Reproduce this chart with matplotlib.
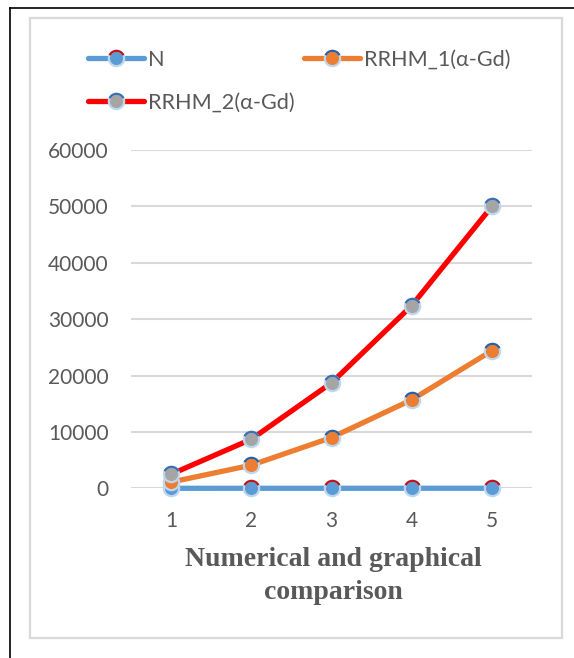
import matplotlib
matplotlib.use("Agg")
import matplotlib.pyplot as plt
from matplotlib.path import Path
from matplotlib.lines import Line2D
from matplotlib.patches import Rectangle
from matplotlib.legend_handler import HandlerTuple

# ---- data ----
categories = [1, 2, 3, 4, 5]
n_values = [1, 2, 3, 4, 5]
rrhm1_values = [1100, 4100, 9000, 15700, 24400]
rrhm2_values = [2500, 8700, 18700, 32400, 50000]
y_ticks = [0, 10000, 20000, 30000, 40000, 50000, 60000]
labels = ["N", "RRHM_1(α-Gd)", "RRHM_2(α-Gd)"]

W, H = 574, 658
fig = plt.figure(figsize=(W / 100, H / 100), dpi=100)
fig.patch.set_facecolor("white")

def fx(px):
    return px / W

def fy(py):
    return 1 - py / H

ax = fig.add_axes([fx(131), fy(488.3), fx(532) - fx(131), fy(150) - fy(488.3)])

TXT = "#595959"
FONT = ["Lato", "DejaVu Sans"]

series = [
    (n_values, "#5b9bd5", "#5b9bd5", "#c0141c"),
    (rrhm1_values, "#ed7d31", "#ed7d31", "#2f5f9e"),
    (rrhm2_values, "#ff0000", "#a5a5a5", "#3c6fb0"),
]

arc = Path.arc(25, 155)
handles = []
for (vals, lc, fc, ec), lab in zip(series, labels):
    base, = ax.plot(categories, vals, color=lc, lw=3.8, marker="o", ms=11,
                    markerfacecolor=fc, markeredgecolor="#bdd7ee", mew=1.6,
                    clip_on=False, solid_capstyle="round", zorder=3)
    top, = ax.plot(categories, vals, linestyle="none", marker=arc, ms=11,
                   markerfacecolor="none", markeredgecolor=ec, mew=1.6,
                   clip_on=False, zorder=3)
    handles.append((base, top))

ax.set_xlim(0.5, 5.5)
ax.set_ylim(0, 60000)
ax.set_xticks(categories)
ax.set_xticklabels([str(c) for c in categories])
ax.set_yticks(y_ticks)
ax.set_yticklabels([str(v) for v in y_ticks])
for s in ax.spines.values():
    s.set_visible(False)
ax.yaxis.grid(True, color="#d9d9d9", lw=1.5, zorder=0)
ax.set_axisbelow(True)
ax.tick_params(axis="both", length=0, colors=TXT, labelsize=15)
ax.tick_params(axis="y", pad=16)
ax.tick_params(axis="x", pad=16)
for t in ax.get_xticklabels() + ax.get_yticklabels():
    t.set_family(FONT)

order = [0, 2, 1]
leg = fig.legend([handles[i] for i in order], [labels[i] for i in order],
                 handler_map={tuple: HandlerTuple(ndivide=1)},
                 loc="upper left", bbox_to_anchor=(fx(88), fy(50)),
                 ncol=2, frameon=False, borderpad=0, borderaxespad=0,
                 handlelength=2.6, handletextpad=0.15, columnspacing=0.45,
                 labelspacing=1.05, prop={"family": FONT, "size": 15.6})
for t in leg.get_texts():
    t.set_color(TXT)

fig.text(fx(333), fy(576), "Numerical and graphical\ncomparison",
         ha="center", va="center", family="Liberation Serif",
         weight="bold", size=20, color=TXT, linespacing=1.42)

# frames
fig.add_artist(Rectangle((fx(30), fy(638)), fx(562) - fx(30), fy(18) - fy(638),
                         transform=fig.transFigure, fill=False,
                         edgecolor="#d9d9d9", lw=1.6))
fig.add_artist(Line2D([fx(10), fx(10)], [fy(8), 0], transform=fig.transFigure,
                      color="black", lw=1.2))
fig.add_artist(Line2D([fx(10), 1], [fy(8), fy(8)], transform=fig.transFigure,
                      color="black", lw=1.2))

fig.savefig("out.png", dpi=100)
